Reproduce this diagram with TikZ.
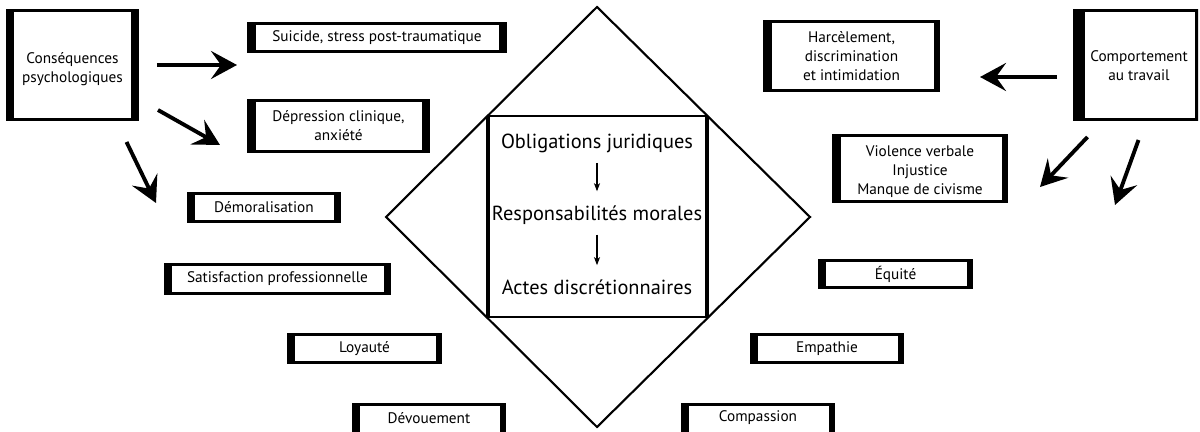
\documentclass[tikz,border=0pt]{standalone}
\usepackage{fontspec}
\setmainfont{PT Sans}
\usetikzlibrary{arrows.meta,calc}
\tikzset{
  tb/.style={draw=black, fill=white, line width=1.7pt, inner sep=0pt},
  tbtext/.style={inner sep=0pt, align=center, font=\fontsize{8.7}{10.8}\selectfont},
  side/.style={fill=black},
  arr/.style={line width=2.2pt, -{Stealth[length=0.52cm, width=0.56cm, inset=0.2cm]}},
  small/.style={line width=0.6pt, -{Stealth[length=0.16cm, width=0.12cm, inset=0.04cm]}},
  ctext/.style={inner sep=0pt, font=\fontsize{11.6}{14}\selectfont},
  dia/.style={line width=1.2pt, line join=miter},
}
% name, x1, y1, x2, y2, left bar, right bar, text shift (px, down), text
\newcommand\tbox[9]{%
  \node[tb, minimum width={(#4-#2-3)*0.02cm}, minimum height={(#5-#3-3)*0.02cm}] (#1) at ({(#2+#4)/2},{(#3+#5)/2}) {};
  \fill[side] (#1.north west) rectangle ([xshift=#6]#1.south west);
  \fill[side] ([xshift=-#7]#1.north east) rectangle (#1.south east);
  \node[tbtext] (#1-t) at ($(#1.center)+(0,#8)$) {#9};
}
\begin{document}
\begin{tikzpicture}[x=0.02cm, y=-0.02cm]
\useasboundingbox (0,0) rectangle (1200,432);
% diamond
\draw[dia] (597,7) -- (810,217) -- (597,427) -- (386,217) -- cycle;
\draw[line width=1.1pt] (488,116) -- (707,116);
\draw[line width=1.1pt] (488,317) -- (707,317);
\draw[line width=2.1pt] (488,116) -- (488,317);
\draw[line width=2.1pt] (707,116) -- (707,317);
\node[ctext] (o) at (597,143) {Obligations juridiques};
\node[ctext] (r) at (597,215) {Responsabilités morales};
\node[ctext] (a) at (597,287) {Actes discrétionnaires};
\draw[small, shorten <=0.2cm, shorten >=0.28cm] (o.south) -- (r.north);
\draw[small, shorten <=0.2cm, shorten >=0.28cm] (r.south) -- (a.north);
% boxes
\tbox{cons}{6}{9}{139}{121}{0.15cm}{0.15cm}{4}{Conséquences\\psychologiques}
\tbox{suic}{247}{22}{507}{53}{0.17cm}{0.16cm}{0}{Suicide, stress post-traumatique}
\tbox{depr}{247}{99}{430}{153}{0.17cm}{0.16cm}{0}{Dépression clinique,\\anxiété}
\tbox{demo}{187}{192}{341}{223}{0.15cm}{0.13cm}{0}{Démoralisation}
\tbox{sat}{164}{263}{391}{295}{0.15cm}{0.13cm}{0}{Satisfaction professionnelle}
\tbox{loy}{287}{333}{442}{364}{0.15cm}{0.13cm}{0}{Loyauté}
\tbox{dev}{352}{403}{506}{435}{0.15cm}{0.13cm}{-1}{Dévouement}
\tbox{harc}{763}{20}{940}{92}{0.17cm}{0.13cm}{0}{Harcèlement,\\discrimination\\et intimidation}
\tbox{comp}{1073}{9}{1198}{121}{0.24cm}{0cm}{1}{\hspace*{0.14cm}Comportement\\\hspace*{0.14cm}au travail}
\tbox{viol}{832}{134}{1008}{203}{0.17cm}{0.13cm}{3}{Violence verbale\\Injustice\\Manque de civisme}
\tbox{equi}{818}{259}{973}{289}{0.15cm}{0.13cm}{0}{Équité}
\tbox{emp}{750}{333}{904}{364}{0.15cm}{0.13cm}{0}{Empathie}
\tbox{compa}{681}{403}{835}{435}{0.15cm}{0.13cm}{-1}{Compassion}
% arrow ends
\coordinate (e1) at (237,65);
\coordinate (e2) at (220,145);
\coordinate (e3) at (156,203);
\coordinate (e4) at (980,77);
\coordinate (e5) at (1040,187);
\coordinate (e6) at (1115,205);
\draw[arr] ($(cons.east)+(18,0)$) -- (e1);
\draw[arr] ($(cons.east)+(19,45)$) -- (e2);
\draw[arr] ($(cons.south)+(54,21)$) -- (e3);
\draw[arr] ($(comp.west)+(-16,12)$) -- (e4);
\draw[arr] ($(comp.south)+(-48,16)$) -- (e5);
\draw[arr] ($(comp.south)+(3,19)$) -- (e6);
\end{tikzpicture}
\end{document}
